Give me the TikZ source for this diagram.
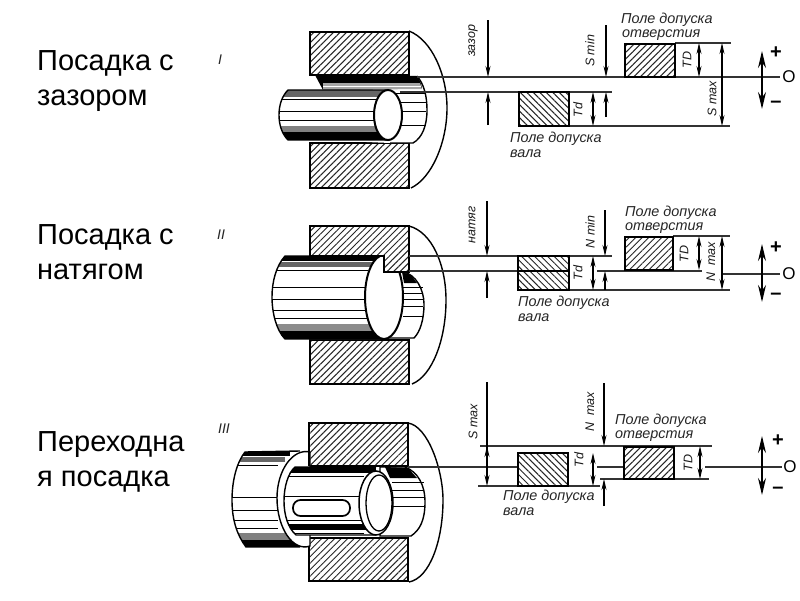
\documentclass[tikz,border=0pt]{standalone}
\usepackage{fontspec}
\setmainfont{Liberation Sans}
\usetikzlibrary{arrows.meta,patterns.meta}
\tikzset{
  holehatch/.style={pattern={Lines[angle=45,distance=4.6pt,line width=1pt]},pattern color=black!85},
  shafthatch/.style={pattern={Lines[angle=-45,distance=4.6pt,line width=1pt]},pattern color=black!85},
  body/.style={draw=black,line width=2pt,line join=miter},
  outline/.style={draw=black,line width=1.4pt},
  refline/.style={draw=black!80,line width=1.1pt},
  stripe/.style={draw=black,line width=0.9pt},
  dimtip/.style={-{Stealth[length=11pt,width=5pt]},draw=black,line width=1.1pt},
  dbl/.style={{Stealth[length=11pt,width=5pt]}-{Stealth[length=11pt,width=5pt]},draw=black,line width=1.1pt},
  bigdbl/.style={{Stealth[length=17pt,width=8pt]}-{Stealth[length=17pt,width=8pt]},draw=black,line width=1.3pt},
  titletxt/.style={font=\fontsize{29}{36}\selectfont,anchor=base west,inner sep=0pt},
  captxt/.style={font=\fontsize{14.4}{16}\selectfont\itshape,anchor=west,inner sep=0pt,text=black!85},
  rottxt/.style={font=\fontsize{12.5}{14}\selectfont\itshape,rotate=90,inner sep=0pt,text=black!90},
  romantxt/.style={font=\fontsize{14}{16}\selectfont\itshape,inner sep=0pt,text=black!85},
  signtxt/.style={font=\fontsize{20}{22}\selectfont\bfseries,inner sep=0pt},
  axistxt/.style={font=\fontsize{17}{19}\selectfont,inner sep=0pt},
}
\begin{document}
\begin{tikzpicture}[x=1pt,y=-1pt]
\useasboundingbox (0,0) rectangle (800,600);
\fill[white] (0,0) rectangle (800,600);

% left titles
\node[titletxt] (t1a) at (37,70) {Посадка с};
\node[titletxt] (t1b) at (37,105) {зазором};
\node[titletxt] (t2a) at (37,244) {Посадка с};
\node[titletxt] (t2b) at (37,279) {натягом};
\node[titletxt] (t3a) at (37,451) {Переходна};
\node[titletxt] (t3b) at (37,486) {я посадка};
\node[romantxt] (r1) at (220,60) {I};
\node[romantxt] (r2) at (221,235) {II};
\node[romantxt] (r3) at (224,429) {III};

%%%%%%%% PANEL I
\draw[outline] (409,31) .. controls (432,40) and (447,75) .. (447,108) .. controls (447,142) and (432,178) .. (411,188);
\draw[body,holehatch] (310,32) rectangle (409,75);
\draw[body,holehatch] (310,143) rectangle (409,188);
% bore
\fill[white] (320,76) -- (417,76) .. controls (424,84) and (427,96) .. (427,110) .. controls (427,126) and (422,138) .. (413,143) -- (390,143) -- (320,140) -- cycle;
\fill[black] (315,75) -- (417,76) .. controls (420,80) and (421,83) .. (422,88) -- (323,90) -- cycle;
\fill[black!35] (323,83) -- (420,83) -- (422,89) -- (323,90) -- cycle;
\draw[outline] (417,76) .. controls (424,84) and (427,96) .. (427,110) .. controls (427,126) and (422,138) .. (413,143) -- (390,143);
\foreach \y/\xa in {93/395,102/400,111/402,125/400}{\draw[stripe] (\xa,\y) -- (426,\y);}
\draw[draw=white,line width=0.8pt] (323,86) -- (421,86);
% shaft
\begin{scope}
\path[clip] (288,90) -- (388,90) -- (388,140) -- (288,140) .. controls (282,134) and (279,125) .. (279,115) .. controls (279,105) and (282,96) .. (288,90) -- cycle;
\fill[white] (270,85) rectangle (390,145);
\fill[black!60] (275,90) rectangle (390,97);
\fill[black] (275,132) rectangle (390,140);
\fill[black!50] (275,126) rectangle (390,132);
\foreach \y in {99,111,120}{\draw[stripe] (275,\y) -- (378,\y);}
\end{scope}
\draw[outline] (388,90) -- (288,90) .. controls (282,96) and (279,105) .. (279,115) .. controls (279,125) and (282,134) .. (288,140) -- (388,140);
\draw[body,fill=white] (388,115) ellipse (14 and 25);
% ref lines
\draw[refline] (417,77) -- (780,77);
\draw[refline] (400,92) -- (612,92);
\draw[refline] (569,126) -- (730,126);
\draw[refline] (675,43) -- (731,43);
% tolerance boxes
\draw[body,shafthatch] (519,92) rectangle (569,126);
\draw[body,holehatch] (625,44) rectangle (675,77);
% arrows
\draw[dimtip] (488,20) -- (488,77);
\draw[dimtip] (488,125) -- (488,92);
\draw[dimtip] (606,25) -- (606,77);
\draw[dimtip] (606,117) -- (606,92);
\draw[dbl] (699,43) -- (699,77);
\draw[dbl] (593,92) -- (593,126);
\draw[dbl] (722,43) -- (722,126);
\draw[bigdbl] (762,51) -- (762,109);
\node[rottxt] (a1) at (473,41) {зазор};
\node[rottxt] (a2) at (590,51) {S min};
\node[rottxt] (a3) at (687,60) {TD};
\node[rottxt] (a4) at (578,110) {Td};
\node[rottxt] (a5) at (712,99) {S max};
\node[signtxt] (a6) at (776,53) {+};
\node[signtxt] (a7) at (776,104) {–};
\node[axistxt] (a8) at (789,77) {O};
\node[captxt] (a9) at (621,20) {Поле допуска};
\node[captxt] (a10) at (622,35) {отверстия};
\node[captxt] (a11) at (510,139) {Поле допуска};
\node[captxt] (a12) at (510,154) {вала};

%%%%%%%% PANEL II
\draw[outline] (409,226) .. controls (432,232) and (446,265) .. (446,300) .. controls (446,340) and (432,376) .. (412,384);
\draw[body,holehatch] (310,340) rectangle (409,384);
% bore
\draw[outline,fill=white] (403,272) .. controls (416,274) and (424,290) .. (424,304) .. controls (424,320) and (420,332) .. (414,338) -- (385,338) -- (385,272) -- cycle;
\fill[black] (402,272) -- (411,275) -- (417,283) -- (404,283) -- cycle;
\foreach \y in {287,293,299,306,316}{\draw[stripe] (403,\y) -- (423,\y);}
% shaft
\begin{scope}
\path[clip] (285,256) -- (384,256) -- (384,339) -- (285,339) .. controls (276,330) and (272,312) .. (272,297) .. controls (272,282) and (276,266) .. (285,256) -- cycle;
\fill[white] (265,250) rectangle (390,345);
\fill[black] (265,256) rectangle (384,261);
\fill[black!60] (265,262) rectangle (384,267);
\fill[black] (265,331) rectangle (384,339);
\fill[black!45] (265,324) rectangle (384,331);
\foreach \y in {270,287,299,310,318}{\draw[stripe] (265,\y) -- (368,\y);}
\end{scope}
\draw[outline] (384,256) -- (285,256) .. controls (276,266) and (272,282) .. (272,297) .. controls (272,312) and (276,330) .. (285,339) -- (384,339);
\draw[body,fill=white] (384,297) ellipse (19 and 42);
% hub section with its key, over the shaft end
\fill[white] (310,226) -- (409,226) -- (409,272) -- (384,272) -- (384,256) -- (310,256) -- cycle;
\draw[body,holehatch] (310,226) -- (409,226) -- (409,272) -- (384,272) -- (384,256) -- (310,256) -- cycle;
% ref lines
\draw[refline] (409,256) -- (612,256);
\draw[refline] (409,271) -- (518,271);
\draw[refline] (597,271) -- (702,271);
\draw[refline] (723,274) -- (780,274);
\draw[refline] (569,290) -- (730,290);
\draw[refline] (673,236) -- (730,236);
% tolerance boxes
\draw[body,shafthatch] (518,256) rectangle (569,290);
\draw[line width=1.5pt] (518,271) -- (569,271);
\draw[body,holehatch] (625,237) rectangle (673,270);
% arrows
\draw[dimtip] (487,201) -- (487,256);
\draw[dimtip] (487,298) -- (487,271);
\draw[dimtip] (605,210) -- (605,256);
\draw[dimtip] (605,290) -- (605,271);
\draw[dbl] (699,236) -- (699,270);
\draw[dbl] (593,256) -- (593,290);
\draw[dbl] (722,236) -- (722,290);
\draw[bigdbl] (762,244) -- (762,302);
\node[rottxt] (b1) at (472,225) {натяг};
\node[rottxt] (b2) at (590,232) {N min};
\node[rottxt] (b3) at (684,254) {TD};
\node[rottxt] (b4) at (578,273) {Td};
\node[rottxt] (b5) at (711,262) {N\ \ max};
\node[signtxt] (b6) at (776,248) {+};
\node[signtxt] (b7) at (776,296) {–};
\node[axistxt] (b8) at (789,274) {O};
\node[captxt] (b9) at (625,213) {Поле допуска};
\node[captxt] (b10) at (625,228) {отверстия};
\node[captxt] (b11) at (518,303) {Поле допуска};
\node[captxt] (b12) at (518,318) {вала};

%%%%%%%% PANEL III
\draw[outline] (408,423) .. controls (428,426) and (443,470) .. (443,500) .. controls (443,540) and (430,578) .. (409,582);
\draw[body,holehatch] (309,423) rectangle (408,466);
\draw[body,holehatch] (309,538) rectangle (408,581);
% big cylinder
\begin{scope}
\path[clip] (245,452) -- (300,451) -- (300,547) -- (246,547) .. controls (237,535) and (232,520) .. (232,500) .. controls (232,480) and (237,462) .. (245,452) -- cycle;
\fill[white] (225,445) rectangle (305,550);
\fill[black] (225,451) rectangle (290,456);
\fill[black!60] (225,457) rectangle (285,462);
\fill[black] (225,540) rectangle (300,547);
\fill[black!50] (225,533) rectangle (300,540);
\foreach \y in {465,497,510,520,528}{\draw[stripe] (225,\y) -- (278,\y);}
\end{scope}
\draw[outline] (300,451) -- (245,452) .. controls (237,462) and (232,480) .. (232,500) .. controls (232,520) and (237,535) .. (246,547) -- (300,547);
% collar
\draw[outline,fill=white] (310,452) .. controls (293,448) and (277,470) .. (277,498) .. controls (277,528) and (293,552) .. (310,546) -- (310,466) -- cycle;
\draw[line width=2pt] (309,466) -- (309,452);
% bore
\draw[outline,fill=white] (405,467) .. controls (418,472) and (425,485) .. (425,502) .. controls (425,520) and (420,530) .. (411,536) -- (380,536) -- (380,467) -- cycle;
\fill[black] (385,467) -- (408,468) -- (417,478) -- (390,478) -- cycle;
\foreach \y in {482,490,497,506}{\draw[stripe] (392,\y) -- (424,\y);}
% shaft
\begin{scope}
\path[clip] (295,467) -- (376,467) -- (376,535) -- (296,535) .. controls (288,528) and (284,515) .. (284,501) .. controls (284,487) and (288,473) .. (295,467) -- cycle;
\fill[white] (280,460) rectangle (380,540);
\fill[black] (280,467) rectangle (376,473);
\fill[black] (280,524) rectangle (376,530);
\foreach \y in {476,496,520,533}{\draw[stripe] (280,\y) -- (364,\y);}
\end{scope}
\draw[outline] (376,467) -- (295,467) .. controls (288,473) and (284,487) .. (284,501) .. controls (284,515) and (288,528) .. (296,535) -- (376,535);
\draw[line width=1.7pt,fill=white,rounded corners=7.5pt] (293,500) rectangle (350,516);
\draw[line width=1.5pt,fill=white] (376,503) ellipse (17 and 32);
\draw[line width=1.3pt,fill=white] (379,503) ellipse (13 and 28);
% ref lines
\draw[refline] (408,467) -- (518,467);
\draw[refline] (597,467) -- (624,467);
\draw[refline] (705,467) -- (782,467);
\draw[refline] (480,446) -- (712,446);
\draw[refline] (478,486) -- (600,486);
\draw[refline] (600,479) -- (709,479);
% tolerance boxes
\draw[body,shafthatch] (518,453) rectangle (568,486);
\draw[body,holehatch] (624,447) rectangle (674,479);
% arrows
\draw[dimtip] (487,382) -- (487,486);
\draw[dimtip] (487,470) -- (487,446);
\draw[dimtip] (604,383) -- (604,446);
\draw[dimtip] (604,506) -- (604,479);
\draw[dbl] (593,453) -- (593,486);
\draw[dbl] (700,446) -- (700,479);
\draw[bigdbl] (762,436) -- (762,495);
\node[rottxt] (c1) at (473,422) {S max};
\node[rottxt] (c2) at (590,412) {N\ \ max};
\node[rottxt] (c3) at (688,463) {TD};
\node[rottxt] (c4) at (579,460) {Td};
\node[signtxt] (c6) at (778,441) {+};
\node[signtxt] (c7) at (778,490) {–};
\node[axistxt] (c8) at (790,467) {O};
\node[captxt] (c9) at (615,421) {Поле допуска};
\node[captxt] (c10) at (615,436) {отверстия};
\node[captxt] (c11) at (503,497) {Поле допуска};
\node[captxt] (c12) at (503,512) {вала};
\end{tikzpicture}
\end{document}
